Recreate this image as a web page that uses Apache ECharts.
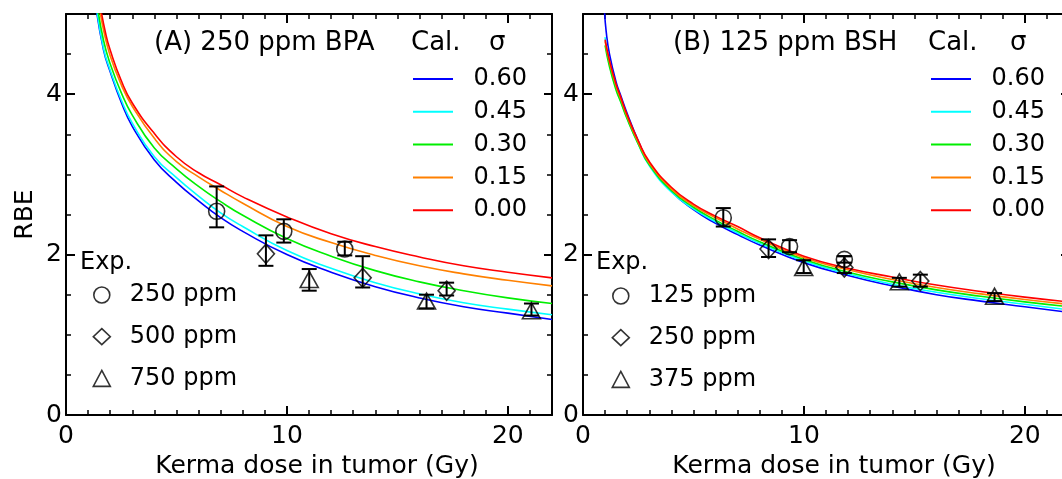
<!DOCTYPE html>
<html>
<head>
<meta charset="utf-8">
<script src="https://cdn.jsdelivr.net/npm/echarts@6/dist/echarts.min.js"></script>
<style>
  html, body { margin: 0; padding: 0; background: #fff; }
  #main { width: 1062px; height: 479px; }
</style>
</head>
<body>
<div id="main"></div>
<script type="text/javascript">
	// sigma values of the calculated curves and their colours
	var sigmaNames = ['0.60', '0.45', '0.30', '0.15', '0.00'];
	var lineColors = ['#0000ff', '#00ffff', '#00ee00', '#ff8000', '#ff0000'];

	// (A) 250 ppm BPA : calculated RBE, [dose Gy, RBE]
	var bpaS060 = [[1.35,5.1],[1.7,4.55],[2,4.28],[2.5,3.9],[3,3.6],[4,3.18],[5,2.9],[6,2.67],[7,2.46],[8,2.29],[10,2.0],[12,1.78],[14,1.6],[16,1.46],[18,1.35],[20,1.27],[22,1.19]];
	var bpaS045 = [[1.37,5.1],[1.7,4.57],[2,4.3],[2.5,3.93],[3,3.64],[4,3.22],[5,2.96],[6,2.73],[7,2.52],[8,2.35],[10,2.05],[12,1.83],[14,1.65],[16,1.51],[18,1.4],[20,1.32],[22,1.25]];
	var bpaS030 = [[1.42,5.1],[1.7,4.67],[2,4.38],[2.5,4.02],[3,3.74],[4,3.33],[5,3.07],[6,2.85],[7,2.66],[8,2.49],[10,2.2],[12,1.98],[14,1.8],[16,1.66],[18,1.55],[20,1.46],[22,1.39]];
	var bpaS015 = [[1.5,5.1],[1.7,4.8],[2,4.48],[2.5,4.12],[3,3.85],[4,3.45],[5,3.16],[6,2.97],[7,2.8],[8,2.64],[10,2.35],[12,2.15],[14,1.99],[16,1.86],[18,1.76],[20,1.68],[22,1.61]];
	var bpaS000 = [[1.55,5.1],[1.8,4.75],[2,4.55],[2.5,4.17],[3,3.89],[4,3.51],[5,3.22],[6,3.02],[7,2.87],[8,2.72],[10,2.47],[12,2.26],[14,2.1],[16,1.97],[18,1.86],[20,1.78],[22,1.71]];

	// (B) 125 ppm BSH : calculated RBE
	var bshS060 = [[0.97,5.05],[1.05,4.78],[1.2,4.5],[1.5,4.15],[1.7,3.99],[2,3.76],[2.5,3.42],[3,3.14],[4,2.79],[5,2.56],[6,2.39],[7,2.25],[8,2.12],[10,1.9],[12,1.74],[14,1.61],[16,1.5],[18,1.42],[20,1.35],[22,1.28]];
	var bshS045 = [[1,4.71],[1.2,4.37],[1.5,4.07],[1.7,3.92],[2,3.7],[2.5,3.38],[3,3.11],[4,2.78],[5,2.57],[6,2.41],[7,2.27],[8,2.14],[10,1.92],[12,1.76],[14,1.63],[16,1.53],[18,1.45],[20,1.38],[22,1.31]];
	var bshS030 = [[1,4.61],[1.2,4.34],[1.5,4.05],[1.7,3.91],[2,3.69],[2.5,3.38],[3,3.12],[4,2.8],[5,2.59],[6,2.43],[7,2.29],[8,2.16],[10,1.94],[12,1.78],[14,1.66],[16,1.56],[18,1.48],[20,1.41],[22,1.35]];
	var bshS015 = [[1,4.66],[1.2,4.4],[1.5,4.1],[1.7,3.95],[2,3.72],[2.5,3.4],[3,3.14],[4,2.82],[5,2.61],[6,2.46],[7,2.32],[8,2.19],[10,1.96],[12,1.81],[14,1.69],[16,1.59],[18,1.51],[20,1.44],[22,1.38]];
	var bshS000 = [[1,4.68],[1.2,4.42],[1.5,4.12],[1.7,3.97],[2,3.74],[2.5,3.42],[3,3.16],[4,2.84],[5,2.63],[6,2.48],[7,2.35],[8,2.21],[10,1.98],[12,1.83],[14,1.72],[16,1.62],[18,1.54],[20,1.47],[22,1.41]];

	// experiments : [dose, RBE, lower, upper]
	var bpa250 = [[6.82,2.54,2.34,2.85],[9.86,2.29,2.15,2.44],[12.62,2.07,1.99,2.16]];
	var bpa500 = [[9.05,2.01,1.86,2.24],[13.43,1.71,1.59,1.98],[17.23,1.55,1.49,1.65]];
	var bpa750 = [[11.01,1.69,1.55,1.82],[16.32,1.42,1.33,1.5],[21.07,1.3,1.24,1.39]];
	var bsh125 = [[6.35,2.46,2.35,2.58],[9.35,2.1,2.03,2.18],[11.83,1.94,1.9,1.98]];
	var bsh250 = [[8.4,2.07,1.97,2.19],[11.83,1.84,1.77,1.98],[15.27,1.67,1.6,1.75]];
	var bsh375 = [[9.99,1.84,1.77,1.93],[14.32,1.66,1.6,1.71],[18.63,1.48,1.42,1.52]];

	var xMax = 22, yMax = 5;
	var xTitle = 'Kerma dose in tumor (Gy)';
	var F = 'DejaVu Sans';

	var myChart = echarts.init(document.getElementById('main'), null, {renderer: 'canvas'});

	// one axis; several are stacked per side to get long and short ticks
	function axis(dim, grid, pos, interval, len, showLabel, name) {
		var a = {
			gridIndex: grid, type: 'value', position: pos,
			min: 0, max: dim === 'x' ? xMax : yMax, interval: interval,
			axisLine: {show: interval !== 1 && interval !== 0.5, onZero: false, lineStyle: {color: '#000', width: 2}},
			axisTick: {show: true, inside: true, length: len, lineStyle: {color: '#000', width: len > 6 ? 2 : 1.5}},
			axisLabel: {show: showLabel, color: '#000', fontSize: 25, fontFamily: F,
				margin: dim === 'x' ? 9 : 4, showMaxLabel: false,
				formatter: function (v) { return (v % interval === 0 && v < (dim === 'x' ? xMax : yMax)) ? String(v) : ''; }},
			splitLine: {show: false},
			name: name || '',
			nameLocation: 'middle',
			nameTextStyle: {color: '#000', fontSize: 25, fontFamily: F}
		};
		if (dim === 'x') {
			a.nameGap = 33;
			a.nameTextStyle.padding = [0, 0, 0, 16];
		} else {
			a.nameGap = 28;
			a.nameRotate = 90;
		}
		return a;
	}

	var xAxes = [], yAxes = [];
	[0, 1].forEach(function (g) {
		xAxes.push(axis('x', g, 'bottom', 10, 9, true, xTitle));
		xAxes.push(axis('x', g, 'bottom', 1, 5, false));
		xAxes.push(axis('x', g, 'top', 10, 9, false));
		xAxes.push(axis('x', g, 'top', 1, 5, false));
		yAxes.push(axis('y', g, 'left', 2, 9, true, g === 0 ? 'RBE' : ''));
		yAxes.push(axis('y', g, 'left', 0.5, 5, false));
		yAxes.push(axis('y', g, 'right', 2, 8, false));
		yAxes.push(axis('y', g, 'right', 0.5, 5, false));
	});

	function renderErr(params, api) {
		var x = api.value(0);
		var lo = api.coord([x, api.value(2)]);
		var hi = api.coord([x, api.value(3)]);
		var w = 7.5;
		var st = {stroke: '#000', lineWidth: 2};
		return {type: 'group', children: [
			{type: 'line', shape: {x1: lo[0], y1: lo[1], x2: hi[0], y2: hi[1]}, style: st},
			{type: 'line', shape: {x1: lo[0] - w, y1: lo[1], x2: lo[0] + w, y2: lo[1]}, style: st},
			{type: 'line', shape: {x1: hi[0] - w, y1: hi[1], x2: hi[0] + w, y2: hi[1]}, style: st}
		]};
	}

	var series = [];
	function addCurves(curves, axisIdx) {
		curves.forEach(function (d, i) {
			series.push({
				name: sigmaNames[i], type: 'line', data: d,
				xAxisIndex: axisIdx, yAxisIndex: axisIdx,
				symbol: 'none', showSymbol: false, smooth: 0.5,
				clip: true, color: lineColors[i],
				lineStyle: {color: lineColors[i], width: 1.6}
			});
		});
	}
	function addExp(name, d, symbol, size, axisIdx) {
		series.push({
			name: name, type: 'scatter', data: d,
			xAxisIndex: axisIdx, yAxisIndex: axisIdx,
			encode: {x: 0, y: 1}, symbol: symbol, symbolSize: size, z: 3,
			itemStyle: {color: 'rgba(0,0,0,0)', borderColor: '#000', borderWidth: 1.6}
		});
		series.push({
			name: name + ' err', type: 'custom', data: d,
			xAxisIndex: axisIdx, yAxisIndex: axisIdx,
			encode: {x: 0, y: [2, 3]}, renderItem: renderErr, z: 4
		});
	}

	addCurves([bpaS060, bpaS045, bpaS030, bpaS015, bpaS000], 0);
	addCurves([bshS060, bshS045, bshS030, bshS015, bshS000], 4);
	addExp('250 ppm', bpa250, 'circle', 16, 0);
	addExp('500 ppm', bpa500, 'diamond', [17, 19], 0);
	addExp('750 ppm', bpa750, 'triangle', [18, 16], 0);
	addExp('125 ppm', bsh125, 'circle', 16, 4);
	addExp('250 ppm', bsh250, 'diamond', [17, 19], 4);
	addExp('375 ppm', bsh375, 'triangle', [18, 16], 4);

	var hollow = {color: 'rgba(0,0,0,0)', borderColor: '#000', borderWidth: 1.6};
	function calLegend(left) {
		return {
			orient: 'vertical', left: left, top: 67, padding: 0,
			icon: 'rect', itemWidth: 40, itemHeight: 2, itemGap: 8.8,
			selectedMode: false,
			textStyle: {color: '#000', fontSize: 24, fontFamily: F, lineHeight: 24, padding: [0, 0, 0, 15.5]},
			data: sigmaNames
		};
	}
	function expLegend(left, top, names) {
		var icons = ['circle', 'diamond', 'triangle'];
		return {
			orient: 'vertical', left: left, top: top, padding: 0,
			itemWidth: 17, itemHeight: 16, itemGap: 17.7,
			selectedMode: false,
			textStyle: {color: '#000', fontSize: 24, fontFamily: F, lineHeight: 24, padding: [0, 0, 0, 14.5]},
			data: names.map(function (n, i) { return {name: n, icon: icons[i], itemStyle: hollow}; })
		};
	}

	function txt(x, y, s, size) {
		return {type: 'text', x: x, y: y, silent: true,
			style: {text: s, fill: '#000', fontSize: size, fontFamily: F, verticalAlign: 'middle'}};
	}

	option = {
		animation: false,
		backgroundColor: '#fff',
		grid: [
			{left: 66, top: 14, width: 486, height: 401, outerBoundsMode: 'none'},
			{left: 583, top: 14, width: 486, height: 401, outerBoundsMode: 'none'}
		],
		xAxis: xAxes,
		yAxis: yAxes,
		legend: [
			calLegend(413),
			calLegend(931),
			expLegend(92.5, 283, ['250 ppm', '500 ppm', '750 ppm']),
			expLegend(611.5, 284, ['125 ppm', '250 ppm', '375 ppm'])
		],
		graphic: [
			txt(154, 43.5, '(A) 250 ppm BPA', 26),
			txt(411, 43.5, 'Cal.', 26),
			txt(489, 43.5, 'σ', 26),
			txt(80, 263, 'Exp.', 24),
			txt(673, 43.5, '(B) 125 ppm BSH', 26),
			txt(928, 43.5, 'Cal.', 26),
			txt(1010, 43.5, 'σ', 26),
			txt(596, 263, 'Exp.', 24)
		],
		series: series
	};

	// 使用刚指定的配置项和数据显示图表。
	myChart.setOption(option);
</script>
</body>
</html>
